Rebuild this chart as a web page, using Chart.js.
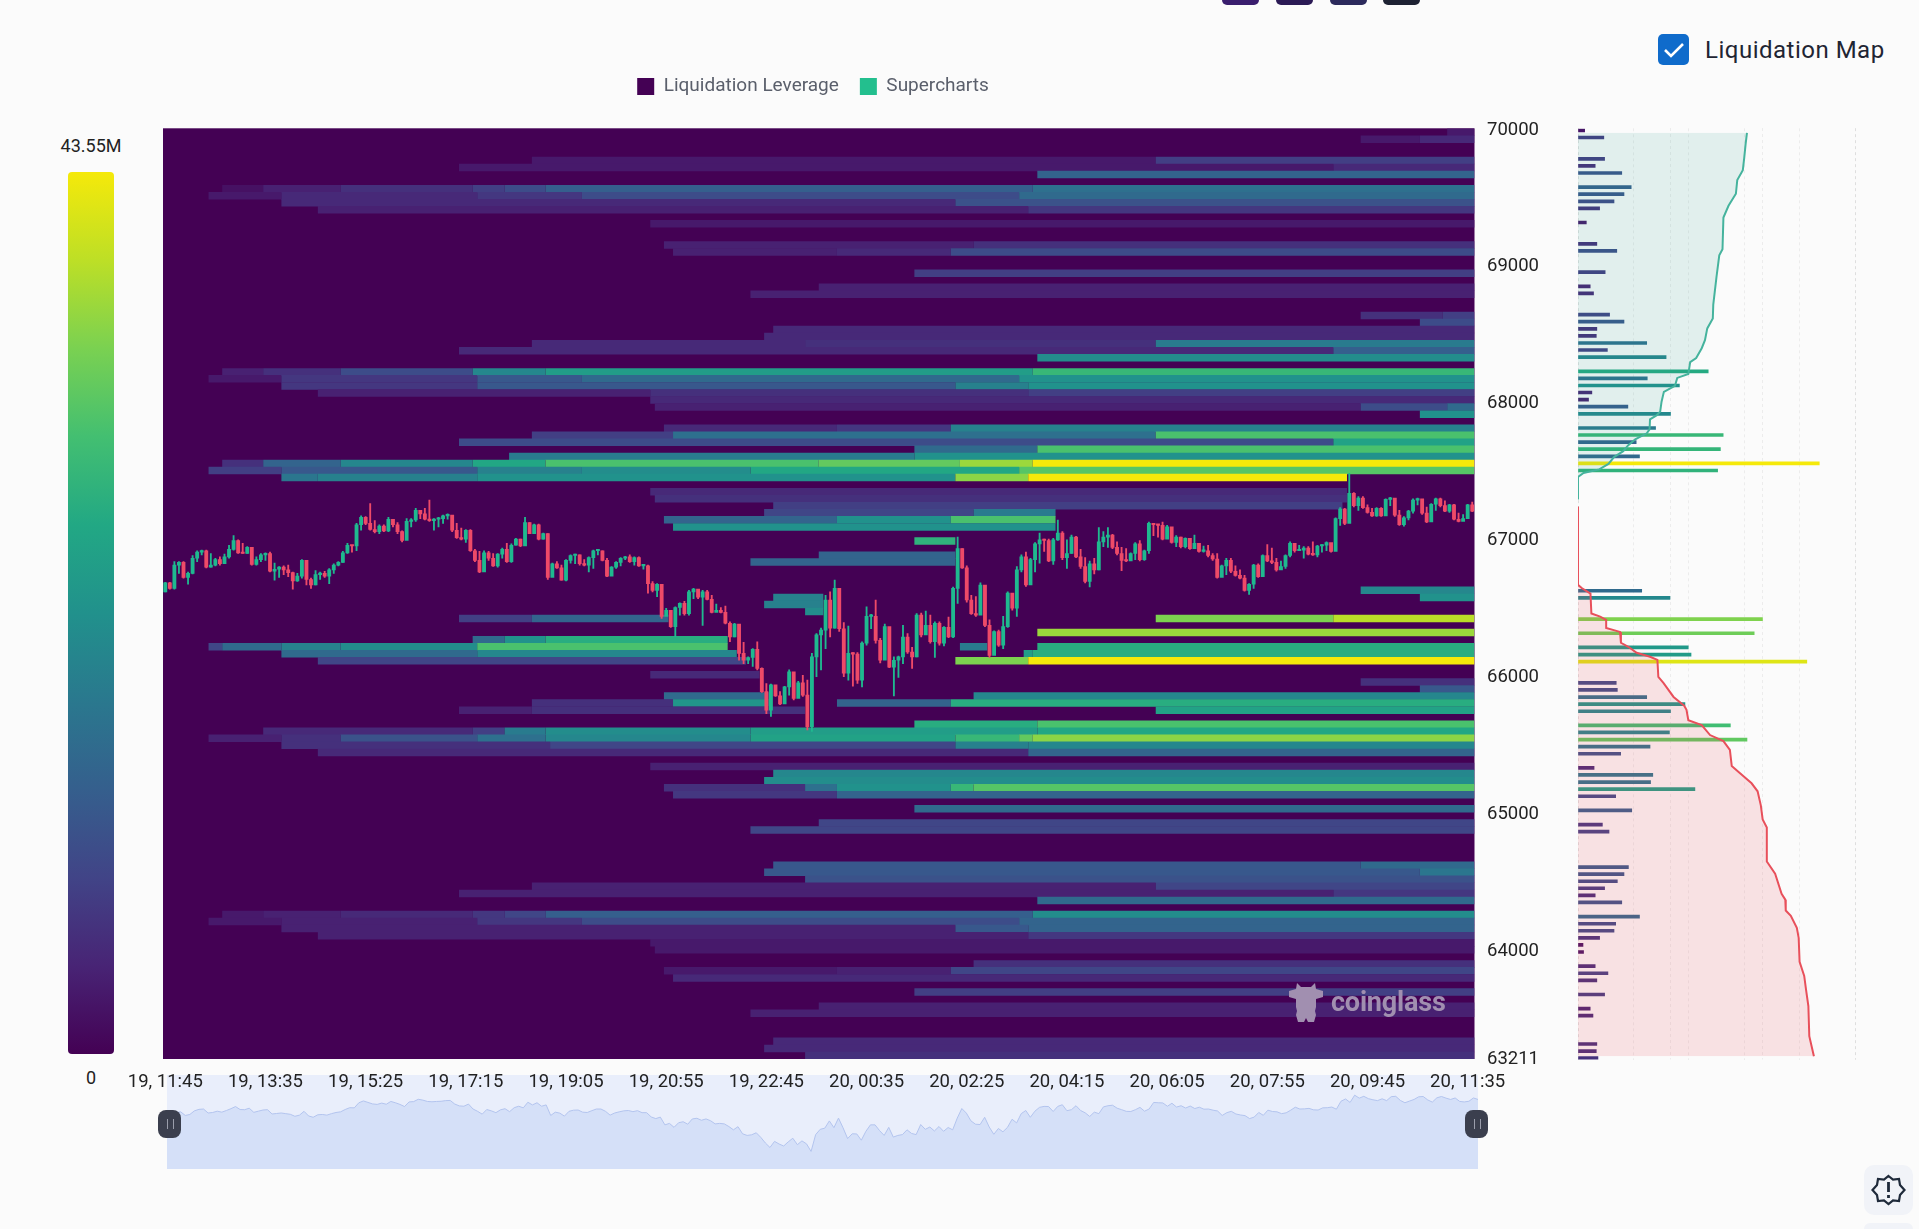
<!DOCTYPE html>
<html>
<head>
<meta charset="utf-8">
<title>Liquidation Map</title>
<script src="https://cdn.jsdelivr.net/npm/chart.js@4"></script>
<style>
html,body{margin:0;padding:0;background:#fbfbfb;width:1919px;height:1229px;overflow:hidden;font-family:Roboto,sans-serif}
canvas{position:absolute;display:block}
.abs{position:absolute}
.stub{position:absolute;top:0;height:5px;width:37px;border-radius:0 0 9px 9px}
.handle{position:absolute;top:1110px;height:28px;background:#3b3f4e;border-radius:8px;z-index:5}
.handle:after{content:"";position:absolute;left:50%;top:9px;width:5px;height:10px;margin-left:-3px;border-left:1px solid #9a9dab;border-right:1px solid #9a9dab}
</style>
</head>
<body>
<div class="stub" style="left:1222px;background:#3a1e6e"></div>
<div class="stub" style="left:1276px;background:#2b1a55"></div>
<div class="stub" style="left:1330px;background:#2c2a5c"></div>
<div class="stub" style="left:1383px;background:#1e2233"></div>

<div class="abs" style="left:1658px;top:34px;width:31px;height:31px;background:#0f6bcb;border-radius:5px">
  <svg width="31" height="31" viewBox="0 0 31 31"><path d="M7 16 L13 22 L25 10" fill="none" stroke="#fff" stroke-width="2.6"/></svg>
</div>
<div class="abs" style="left:1705px;top:34px;line-height:32px;font-size:24px;letter-spacing:.5px;color:#1f2533;white-space:nowrap">Liquidation Map</div>

<div class="abs" id="colorbar" style="left:68px;top:172px;width:46px;height:882px;border-radius:4px"></div>
<div class="abs" style="left:41px;width:100px;text-align:center;top:134px;font-size:18px;line-height:24px;color:#222">43.55M</div>
<div class="abs" style="left:41px;width:100px;text-align:center;top:1066px;font-size:18px;line-height:24px;color:#222">0</div>

<canvas id="mini" width="1919" height="140" style="left:0;top:1060px;width:1919px;height:140px"></canvas>
<canvas id="main" width="1622" height="1229" style="left:0;top:0;width:1622px;height:1229px"></canvas>
<canvas id="side" width="340" height="1229" style="left:1540px;top:0;width:340px;height:1229px"></canvas>

<div class="abs" style="left:1288px;top:982px;z-index:4">
  <svg width="36" height="42" viewBox="0 0 36 42" fill="#a18fb0">
    <path d="M9 1 L13 5 H23 L27 1 L28 7 L35 9 V15 L28 17 V25 L27 29 L28 33 L26 40 H20 L18 36 L16 40 H10 L8 33 L9 29 L8 25 V17 L1 15 V9 L8 7 Z"/>
  </svg>
</div>
<div class="abs" style="left:1331px;top:984px;z-index:4;font-size:27px;line-height:36px;font-weight:700;color:#a18fb0;white-space:nowrap;letter-spacing:-.2px">coinglass</div>

<div class="handle" style="left:158px;width:23px"></div>
<div class="handle" style="left:1465px;width:23px"></div>

<div class="abs" style="left:1864px;top:1165px;width:49px;height:50px;background:#f1f3f8;border-radius:10px">
  <svg width="49" height="50" viewBox="0 0 49 50" fill="none" stroke="#1f2a3a" stroke-width="2.2">
    <path d="M24.5 11 L29 14.5 L35 14 L36 20 L40.5 25 L36 30 L35 36 L29 35.5 L24.5 39 L20 35.5 L14 36 L13 30 L8.5 25 L13 20 L14 14 L20 14.5 Z"/>
    <path d="M24.5 17 V27 M24.5 30 V33" stroke-width="2.8"/>
  </svg>
</div>
<div class="abs" style="left:1864px;top:1223px;width:49px;height:6px;background:#f1f3f8;border-radius:10px 10px 0 0"></div>

<script>
// ---------- axes text ----------
const timeTickIndexes = [0,22,44,66,88,110,132,154,176,198,220,242,264,286];
const timeTickLabels = ["19, 11:45","19, 13:35","19, 15:25","19, 17:15","19, 19:05","19, 20:55","19, 22:45","20, 00:35","20, 02:25","20, 04:15","20, 06:05","20, 07:55","20, 09:45","20, 11:35"];
const priceTicks = [70000,69000,68000,67000,66000,65000,64000,63211];
const legendNames = ["Liquidation Leverage","Supercharts"];
const legendColors = ["#440154","#23bf8e"];

// ---------- price levels of the liquidation rows ----------
const priceLevels = [
69983,69932,69880,69829,69777,69726,69674,69623,69571,69520,
69468,69417,69365,69314,69262,69211,69159,69108,69056,69005,
68953,68902,68850,68799,68747,68696,68644,68593,68541,68490,
68438,68387,68335,68284,68232,68181,68129,68078,68026,67975,
67923,67872,67820,67769,67717,67666,67614,67563,67511,67460,
67408,67357,67305,67254,67202,67151,67099,67048,66996,66945,
66893,66842,66790,66739,66687,66636,66584,66533,66481,66430,
66378,66327,66275,66224,66172,66121,66069,66018,65966,65915,
65863,65812,65760,65709,65657,65606,65554,65503,65451,65400,
65348,65297,65245,65194,65142,65091,65039,64988,64936,64885,
64833,64782,64730,64679,64627,64576,64524,64473,64421,64370,
64318,64267,64215,64164,64112,64061,64009,63958,63906,63855,
63803,63752,63700,63649,63597,63546,63494,63443,63391,63340,
63288,63237];

// heat bands: [level index, [from candle, to candle, liquidation in M], ...]
const heatBands = [
[0,[282,288,3]],
[1,[263,276,3],[276,288,5]],
[4,[81,218,3],[218,288,8]],
[5,[65,257,3],[257,288,5]],
[6,[192,288,14]],
[8,[13,22,2],[22,39,4],[39,68,6],[68,75,8],[75,84,10],[84,191,13],[191,288,16]],
[9,[10,26,3],[26,69,5],[69,92,7],[92,188,10],[188,288,15]],
[10,[26,174,5],[174,288,11]],
[11,[34,190,4],[190,288,7]],
[13,[107,288,3]],
[16,[110,178,4],[178,288,6]],
[17,[112,148,4],[148,173,5],[173,288,10]],
[20,[165,288,8]],
[22,[144,288,4]],
[23,[129,288,4]],
[26,[263,281,6],[281,288,8]],
[27,[276,288,10]],
[28,[134,288,5]],
[29,[132,288,5]],
[30,[81,141,5],[141,218,6],[218,288,18]],
[31,[65,257,5],[257,288,13]],
[32,[192,288,21]],
[34,[13,22,4],[22,39,6],[39,68,10],[68,84,20],[84,191,24],[191,288,29]],
[35,[10,26,3],[26,69,7],[69,92,12],[92,188,15],[188,288,22]],
[36,[26,69,7],[69,174,12],[174,190,19],[190,288,22]],
[37,[34,107,4],[107,190,6],[190,288,8]],
[38,[107,288,5]],
[39,[108,263,4],[263,282,10],[282,288,15]],
[40,[276,288,22]],
[42,[110,148,5],[148,173,7],[173,288,19]],
[43,[81,112,8],[112,218,16],[218,288,31]],
[44,[65,257,10],[257,288,25]],
[45,[165,192,15],[192,288,31]],
[46,[76,165,18],[165,288,22]],
[47,[13,22,6],[22,39,14],[39,68,20],[68,84,26],[84,144,31],[144,175,33],[175,191,37],[191,288,43.55]],
[48,[10,26,8],[26,69,12],[69,92,19],[92,129,21],[129,188,26],[188,288,32]],
[49,[26,34,17],[34,69,19],[69,174,22],[174,190,36],[190,260,43.55]],
[51,[107,260,5]],
[52,[108,260,6]],
[53,[134,259,8]],
[54,[132,178,9],[178,196,18]],
[55,[110,148,14],[148,173,22],[173,196,31]],
[56,[112,196,22]],
[58,[165,174,28]],
[60,[144,174,14]],
[61,[129,174,14]],
[65,[263,288,20]],
[66,[134,145,19],[276,288,22]],
[67,[132,145,19]],
[68,[141,145,21]],
[69,[65,81,8],[81,111,14],[218,257,35],[257,288,39]],
[71,[192,288,37]],
[72,[68,75,15],[75,84,22],[84,124,27]],
[73,[10,13,9],[13,26,15],[26,39,19],[39,69,21],[69,124,31],[175,181,18],[192,288,27]],
[74,[26,69,15],[69,126,20],[189,191,24],[191,288,27]],
[75,[34,128,9],[174,190,35],[190,288,43.55]],
[77,[107,131,5]],
[78,[263,288,6]],
[79,[276,288,12]],
[80,[110,133,15],[178,288,20]],
[81,[81,112,6],[112,133,23],[148,173,14],[173,288,27]],
[82,[65,81,4],[81,141,6],[218,288,25]],
[84,[165,192,27],[192,288,31]],
[85,[22,68,5],[68,75,8],[75,84,18],[84,129,21],[129,192,24],[192,288,26]],
[86,[10,26,4],[26,39,6],[39,69,11],[69,84,16],[84,129,20],[129,174,25],[174,188,29],[188,191,33],[191,288,36]],
[87,[26,85,6],[85,174,9],[174,190,19],[190,288,20]],
[88,[34,190,5],[190,288,14]],
[90,[107,288,4]],
[91,[134,288,20]],
[92,[132,288,21]],
[93,[110,141,6],[141,148,16],[148,173,22],[173,178,29],[178,288,32]],
[94,[112,148,7],[148,288,14]],
[96,[165,288,15]],
[98,[144,288,9]],
[99,[129,288,9]],
[104,[134,263,12],[263,288,15]],
[105,[132,276,12],[276,288,17]],
[106,[141,288,11]],
[107,[81,218,4],[218,288,9]],
[108,[65,257,4],[257,288,7]],
[109,[192,288,15]],
[111,[13,22,3],[22,39,4],[39,68,5],[68,75,7],[75,84,9],[84,191,13],[191,288,21]],
[112,[10,26,3],[26,69,4],[69,92,7],[92,188,10],[188,288,14]],
[113,[26,174,4],[174,190,12],[190,288,14]],
[114,[34,190,4],[190,288,7]],
[115,[107,288,3]],
[116,[108,288,3]],
[118,[178,288,6]],
[119,[110,148,3],[148,173,4],[173,288,9]],
[120,[112,288,5]],
[122,[165,288,8]],
[124,[144,288,4]],
[125,[129,288,4]],
[129,[134,288,5]],
[130,[132,288,5]],
[131,[141,288,6]]
];

// colour scale stops: [share of the 43.55M maximum, colour]
const scaleMax = 43.55;
const scaleStops = [[0,"#440154"],[0.1,"#482475"],[0.2,"#414487"],[0.3,"#355f8d"],[0.4,"#2a788e"],[0.5,"#21918c"],[0.6,"#22a884"],[0.7,"#43bf71"],[0.8,"#7ad151"],[0.9,"#bddf26"],[1,"#f5e90a"]];

// ---------- 5 minute candles ----------
const firstOpen = 66625;
const candleClose = [
66690,66650,66820,66840,66730,66760,66870,66915,66925,66805,66820,66860,66830,66880,66935,67000,66910,66905,66950,66825,
66860,66895,66905,66775,66790,66805,66785,66765,66705,66740,66855,66715,66675,66750,66760,66740,66785,66820,66840,66910,
66965,66960,67115,67170,67125,67080,67065,67105,67070,67155,67115,67065,67000,67140,67150,67220,67195,67155,67145,67155,
67160,67180,67185,67075,67020,67010,67075,66925,66855,66770,66910,66870,66815,66900,66935,66845,66965,67010,66960,67130,
67050,67115,67010,67050,66730,66830,66800,66710,66855,66890,66895,66830,66820,66875,66925,66925,66855,66740,66805,66840,
66870,66880,66845,66875,66815,66815,66685,66635,66680,66445,66490,66370,66510,66540,66465,66625,66645,66585,66625,66570,
66475,66490,66475,66395,66295,66390,66175,66125,66145,66205,66065,65895,65760,65945,65865,65805,65930,66040,65845,65960,
65870,65640,66150,66310,66345,66565,66360,66650,66355,66030,66175,66170,65980,66250,66445,66445,66270,66125,66370,66075,
66125,66150,66295,66185,66150,66455,66310,66380,66260,66395,66250,66365,66295,66650,66940,66800,66565,66465,66455,66675,
66380,66160,66335,66235,66370,66615,66505,66785,66880,66675,66860,66975,67005,67000,66850,67005,67055,66875,66905,67025,
66880,66810,66700,66830,66785,66990,67025,67040,66950,66905,66855,66850,66905,66975,66860,66925,67125,67115,67110,67010,
67100,66985,67025,66955,67015,66940,66980,66920,66925,66890,66865,66730,66815,66855,66775,66745,66725,66635,66680,66820,
66735,66890,66850,66840,66785,66810,66890,66980,66925,66930,66945,66900,66895,66960,66965,66985,66920,67160,67230,67125,
67345,67255,67310,67240,67205,67180,67235,67180,67300,67310,67185,67115,67165,67215,67295,67305,67200,67135,67265,67305,
67255,67215,67260,67155,67140,67160,67260,67215];
const candleHigh = [
66695,66695,66845,66845,66845,66770,66890,66925,66930,66930,66905,66870,66880,66900,66965,67035,67005,66980,66955,66950,
66880,66905,66910,66915,66835,66810,66815,66820,66770,66760,66860,66850,66725,66780,66770,66775,66795,66830,66845,66920,
66980,66965,67125,67180,67175,67270,67145,67115,67115,67170,67150,67130,67070,67160,67160,67235,67205,67235,67295,67160,
67170,67185,67195,67180,67125,67090,67080,67080,66935,66920,66925,66920,66905,66905,66945,66980,66975,67015,67010,67170,
67130,67120,67120,67055,67050,66835,66845,66820,66860,66895,66900,66895,66860,66880,66930,66930,66925,66870,66810,66845,
66875,66885,66895,66880,66880,66820,66820,66700,66685,66660,66505,66490,66515,66545,66555,66635,66650,66640,66635,66635,
66600,66535,66510,66520,66405,66395,66380,66255,66150,66210,66260,66070,65955,65950,65935,65895,65935,66055,66005,65970,
66015,65980,66175,66320,66360,66600,66625,66710,66620,66400,66375,66180,66180,66260,66515,66460,66565,66285,66390,66355,
66150,66155,66380,66320,66220,66465,66470,66485,66455,66405,66405,66370,66440,66660,67025,66940,66815,66600,66590,66690,
66635,66420,66340,66345,66445,66625,66610,66810,66895,66915,66870,66985,67055,67010,67010,67015,67150,67065,67005,67040,
67030,66935,66875,66850,66870,67095,67065,67095,67045,66990,66950,66940,66910,66985,67000,66930,67135,67125,67115,67135,
67110,67085,67035,67025,67020,67015,67040,66980,66960,66965,66905,66905,66820,66870,66870,66815,66785,66745,66685,66825,
66830,66895,66970,66945,66870,66850,66895,66990,66980,66965,66955,66955,66990,66965,66970,66990,66970,67165,67240,67235,
67490,67350,67320,67320,67260,67235,67240,67240,67305,67315,67305,67220,67175,67220,67305,67310,67295,67245,67270,67310,
67310,67290,67265,67265,67200,67190,67265,67280];
const candleLow = [
66625,66645,66645,66760,66725,66680,66755,66845,66895,66800,66805,66815,66820,66830,66870,66930,66905,66905,66905,66820,
66820,66845,66855,66770,66710,66730,66750,66735,66645,66700,66725,66675,66650,66675,66715,66730,66685,66760,66815,66840,
66905,66915,66925,67075,67115,67075,67055,67050,67065,67065,67100,67050,66990,67040,67100,67140,67160,67150,67140,67075,
67100,67125,67155,67065,67015,67005,66985,66920,66845,66765,66805,66855,66810,66805,66870,66840,66840,66965,66955,66965,
67050,67065,67005,67010,66715,66750,66795,66710,66705,66835,66830,66820,66815,66770,66795,66895,66850,66735,66750,66795,
66815,66860,66840,66820,66810,66790,66615,66625,66590,66430,66455,66365,66295,66455,66455,66455,66575,66575,66380,66565,
66470,66485,66470,66390,66260,66295,66125,66100,66100,66080,66055,65890,65735,65715,65860,65800,65820,65870,65835,65870,
65860,65615,65605,66005,66055,66210,66295,66360,66335,66005,65980,65935,65955,65930,66235,66355,66250,66105,66250,66070,
65865,66000,66100,66175,66065,66150,66295,66370,66250,66145,66235,66230,66290,66290,66540,66795,66550,66460,66445,66465,
66370,66145,66175,66225,66210,66365,66490,66445,66770,66665,66685,66770,66835,66920,66845,66825,67000,66860,66795,66905,
66875,66795,66690,66660,66755,66785,66955,66950,66940,66895,66780,66845,66860,66860,66850,66855,66905,67035,67025,67005,
67050,66980,66955,66945,66945,66935,66965,66915,66915,66880,66855,66725,66735,66750,66765,66740,66720,66630,66605,66650,
66730,66775,66845,66830,66775,66795,66795,66880,66915,66925,66870,66895,66890,66880,66915,66925,66915,66935,67110,67115,
67175,67245,67220,67235,67200,67175,67175,67175,67210,67255,67175,67110,67105,67150,67200,67260,67190,67130,67180,67220,
67245,67210,67205,67150,67135,67155,67185,67210];

// ---------- side histogram and cumulative curves ----------
const histRows = [0,1,4,5,6,8,9,10,11,13,16,17,20,22,23,26,27,28,29,30,31,32,34,35,36,37,38,39,40,42,43,44,45,46,47,48,65,66,69,71,73,74,75,78,79,80,81,82,84,85,86,87,88,90,91,92,93,94,96,98,99,104,105,106,107,108,109,111,112,113,114,115,116,118,119,120,122,124,125,129,130,131];
const histValues = [1.2,4.66,4.8,3.1,7.9,9.6,8.3,6.5,3.9,1.5,3.4,7,4.9,2.2,2.8,5.7,8.3,3.4,3.3,12.4,5.3,15.9,23.5,12.5,18.3,2.5,1.9,9,16.7,14,26.2,10.5,25.7,11.1,43.55,25.2,11.5,16.6,33.3,31.8,19.9,20.4,41.3,6.9,7.1,12.4,19.3,16.7,27.5,16.5,30.5,13,7.7,2.9,13.5,13.1,21.1,6.8,9.7,4.4,5.6,9.1,8.3,7.1,4.8,3.1,7.9,11.1,6.8,6.5,3.9,0.9,1,3.1,5.4,3.4,4.8,2.2,2.7,3.4,3.3,3.6];
const shortCumPrice = [67300,67464,67493,67519,67559,67608,67651,67695,67738,67781,67810,67882,67911,67939,68011,68083,68126,68184,68213,68299,68328,68400,68458,68544,68616,68717,68918,69076,69120,69350,69436,69523,69623,69695,69782,69882,69966];
const shortCumValue = [0,0,12,46,66,78,98,109,124,149,155,156,170,178,181,186,210,215,239,243,256,268,275,280,292,293,300,306,313,315,326,342,345,357,360,363,366];
const longCumPrice = [67249,66679,66656,66615,66471,66448,66425,66366,66337,66258,66229,66185,66156,66133,66010,65966,65864,65800,65771,65695,65660,65587,65543,65479,65362,65309,65236,65178,65076,64974,64915,64667,64579,64433,64390,64311,64273,64185,64112,63937,63835,63733,63616,63397,63251];
const longCumValue = [0,0,8,27,29,48,61,61,91,93,109,127,156,172,174,185,207,230,235,239,268,286,315,329,333,351,376,389,396,400,409,409,427,441,449,450,461,474,478,480,490,494,499,501,511];

// ---------- helpers ----------
function hexRgb(h){return [parseInt(h.slice(1,3),16),parseInt(h.slice(3,5),16),parseInt(h.slice(5,7),16)];}
function scaleColor(t){
  t=Math.max(0,Math.min(1,t));
  for(let i=1;i<scaleStops.length;i++){
    if(t<=scaleStops[i][0]){
      const a=scaleStops[i-1],b=scaleStops[i],f=(t-a[0])/(b[0]-a[0]),ca=hexRgb(a[1]),cb=hexRgb(b[1]);
      return "rgb("+ca.map((c,j)=>Math.round(c+(cb[j]-c)*f)).join(",")+")";
    }
  }
  return scaleStops[scaleStops.length-1][1];
}
document.getElementById("colorbar").style.background="linear-gradient(to top,"+scaleStops.map(s=>s[1]+" "+(s[0]*100)+"%").join(",")+")";

const heatData=[];
heatBands.forEach(b=>{
  b.slice(1).forEach(s=>heatData.push({x:[s[0]-0.5,s[1]-0.5],y:priceLevels[b[0]],v:s[2]}));
});
const bodyData=candleClose.map((c,i)=>({x:i,y:[i?candleClose[i-1]:firstOpen,c]}));
const wickData=candleClose.map((c,i)=>({x:i,y:[candleLow[i],candleHigh[i]]}));
const candleUp="#1fb98f", candleDown="#ee4a68";
function candleColor(ctx){
  const i=ctx.dataIndex; const o=i?candleClose[i-1]:firstOpen;
  return candleClose[i]>=o?candleUp:candleDown;
}
const font18={family:"Roboto",size:18.5};

// ---------- main chart ----------
new Chart(document.getElementById("main"),{
  data:{datasets:[
    {type:"bar",label:legendNames[1],indexAxis:"x",data:bodyData,backgroundColor:candleColor,barThickness:3.2,minBarLength:1.5,grouped:false,order:1},
    {type:"bar",label:"wick",indexAxis:"x",data:wickData,backgroundColor:candleColor,barThickness:1.2,grouped:false,order:2},
    {type:"bar",label:legendNames[0],indexAxis:"y",data:heatData,backgroundColor:c=>scaleColor(c.raw.v/scaleMax),barThickness:7.5,grouped:false,inflateAmount:0,order:3}
  ]},
  options:{
    responsive:false,animation:false,devicePixelRatio:1,
    layout:{padding:{left:163,right:47.5,top:56,bottom:130}},
    plugins:{
      tooltip:{enabled:false},
      legend:{display:true,position:"top",onClick:null,labels:{
        boxWidth:17,boxHeight:17,padding:21,color:"#5a5f6b",font:{family:"Roboto",size:19},
        generateLabels:()=>legendNames.map((t,i)=>({text:t,fillStyle:legendColors[i],strokeStyle:legendColors[i],lineWidth:0,fontColor:"#5a5f6b",hidden:false,datasetIndex:i}))
      }}
    },
    scales:{
      x:{type:"linear",offset:false,min:-0.5,max:287.5,position:"bottom",
        grid:{display:false,offset:false},border:{display:false},
        afterBuildTicks:s=>{s.ticks=timeTickIndexes.map(v=>({value:v}));},
        afterFit:s=>{s.height=40;},
        ticks:{autoSkip:false,maxRotation:0,minRotation:0,padding:4,color:"#222",font:font18,
          callback:v=>timeTickLabels[timeTickIndexes.indexOf(v)]}},
      y:{type:"linear",offset:false,min:63211,max:70012,position:"right",
        grid:{display:false,offset:false},border:{display:false},
        afterBuildTicks:s=>{s.ticks=priceTicks.map(v=>({value:v}));},
        afterFit:s=>{s.width=100;},
        ticks:{autoSkip:false,padding:4.5,color:"#222",font:font18,callback:v=>String(v)}}
    }
  },
  plugins:[
    {id:"legendGap",beforeLayout(c){
      if(!c.legend._patched){const f=c.legend.fit;c.legend.fit=function(){f.call(this);this.height=72.3;};c.legend._patched=true;}
    },afterLayout(c){c.legend.left=4;c.legend.right=1622;}},
    {id:"plotBg",beforeDatasetsDraw(c){
      const a=c.chartArea;c.ctx.save();c.ctx.fillStyle=scaleStops[0][1];c.ctx.fillRect(a.left,a.top,a.width,a.height);c.ctx.restore();
    }}
  ]
});

// ---------- side histogram ----------
new Chart(document.getElementById("side"),{
  data:{datasets:[
    {type:"line",indexAxis:"y",xAxisID:"xCum",yAxisID:"y",label:"Short",data:shortCumPrice.map((p,i)=>({x:shortCumValue[i],y:p})),borderColor:"#45b39d",borderWidth:2,pointRadius:0,tension:0,fill:"origin",backgroundColor:"rgba(41,157,143,0.12)",order:0},
    {type:"line",indexAxis:"y",xAxisID:"xCum",yAxisID:"y",label:"Long",data:longCumPrice.map((p,i)=>({x:longCumValue[i],y:p})),borderColor:"#e8505b",borderWidth:2,pointRadius:0,tension:0,fill:"origin",backgroundColor:"rgba(232,80,91,0.15)",order:0},
    {type:"bar",indexAxis:"y",xAxisID:"xBar",yAxisID:"y",label:"Level",data:histRows.map((r,i)=>({x:histValues[i],y:priceLevels[r]})),backgroundColor:c=>scaleColor(Math.pow(c.raw.x/scaleMax,0.8)),barThickness:3,grouped:false,order:1}
  ]},
  options:{
    responsive:false,animation:false,devicePixelRatio:1,
    layout:{padding:{left:38,right:25,top:128.3,bottom:169.5}},
    plugins:{legend:{display:false},tooltip:{enabled:false}},
    scales:{
      y:{type:"linear",offset:false,min:63227.5,max:69999.2,display:false},
      xBar:{type:"linear",axis:"x",min:0,max:50,position:"bottom",
        afterFit:s=>{s.height=0;},
        grid:{color:"rgba(0,0,0,0.06)",drawTicks:false},border:{display:false,dash:[3,3]},
        ticks:{display:false,stepSize:10}},
      xCum:{type:"linear",axis:"x",min:0,max:600,position:"top",
        afterFit:s=>{s.height=0;},
        grid:{color:"rgba(0,0,0,0.06)",drawTicks:false},border:{display:false,dash:[3,3]},
        ticks:{display:false,stepSize:200}}
    }
  }
});

// ---------- navigator ----------
new Chart(document.getElementById("mini"),{
  type:"line",
  data:{labels:candleClose.map((_,i)=>i),datasets:[{data:candleClose,borderColor:"#b3c4ee",borderWidth:1,pointRadius:0,tension:0,fill:"start",backgroundColor:"#d5e0f8"}]},
  options:{
    responsive:false,animation:false,devicePixelRatio:1,
    layout:{padding:{left:167,right:441,top:15,bottom:31}},
    plugins:{legend:{display:false},tooltip:{enabled:false}},
    scales:{x:{type:"category",display:false,offset:false},y:{type:"linear",display:false,min:65108,max:67956}}
  },
  plugins:[{id:"miniBg",beforeDatasetsDraw(c){
    const a=c.chartArea;c.ctx.save();c.ctx.fillStyle="#e9eefb";c.ctx.fillRect(a.left,a.top,a.width,a.height);c.ctx.restore();
  }}]
});
</script>
</body>
</html>
